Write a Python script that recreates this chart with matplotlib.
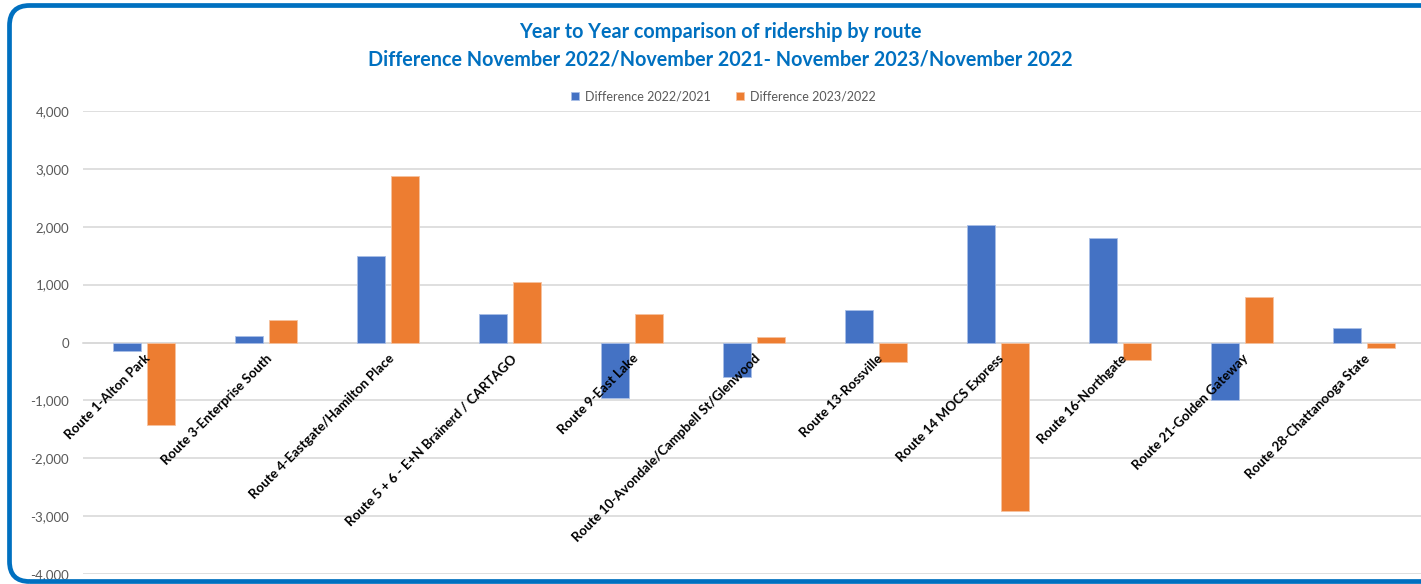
import matplotlib
matplotlib.use("Agg")
import matplotlib.pyplot as plt
import matplotlib.ticker as mticker
from matplotlib.patches import FancyBboxPatch
from matplotlib.transforms import IdentityTransform
import numpy as np

# data
routes = [
    "Route 1-Alton Park",
    "Route 3-Enterprise South",
    "Route 4-Eastgate/Hamilton Place",
    "Route 5 + 6 - E+N Brainerd / CARTAGO",
    "Route 9-East Lake",
    "Route 10-Avondale/Campbell St/Glenwood",
    "Route 13-Rossville",
    "Route 14 MOCS Express",
    "Route 16-Northgate",
    "Route 21-Golden Gateway",
    "Route 28-Chattanooga State",
]
diff_22_21 = [-150, 110, 1500, 500, -965, -600, 563, 2035, 1805, -1000, 247]
diff_23_22 = [-1430, 395, 2870, 1045, 495, 103, -333, -2910, -310, 788, -92]
series_names = ["Difference 2022/2021", "Difference 2023/2022"]
colors = ["#4472C4", "#ED7D31"]

title = ("Year to Year comparison of ridership by route\n"
         "Difference November 2022/November 2021- November 2023/November 2022")

plt.rcParams["font.family"] = ["Lato", "DejaVu Sans"]

W, H = 1421, 584
fig = plt.figure(figsize=(W / 100, H / 100), dpi=100)

# plot area in pixels: x 83..1425, y 111..574
left, right, top, bottom = 83, 1425, 111, 574
ax = fig.add_axes([left / W, (H - bottom) / H, (right - left) / W, (bottom - top) / H])

x = np.arange(len(routes))
w = 0.23
off = 0.143
ax.bar(x - off, diff_22_21, w, color=colors[0], edgecolor="#A9BEE6", linewidth=0.6,
       label=series_names[0], zorder=3)
ax.bar(x + off, diff_23_22, w, color=colors[1], edgecolor="#F6C2A0", linewidth=0.6,
       label=series_names[1], zorder=3)

ax.set_xlim(-0.5, len(routes) - 0.5)
ax.set_ylim(-4000, 4000)
ax.set_yticks(np.arange(-4000, 4001, 1000))
ax.yaxis.set_major_formatter(mticker.FuncFormatter(lambda v, p: f"{int(v):,}"))
ax.grid(axis="y", color="#D9D9D9", linewidth=1.2)
ax.yaxis.set_zorder(0.5)
ax.xaxis.set_zorder(5)  # category labels sit on top of the bars
for s in ["top", "right", "left"]:
    ax.spines[s].set_visible(False)
ax.spines["bottom"].set_position(("data", 0))
ax.spines["bottom"].set_color("#D9D9D9")
ax.spines["bottom"].set_linewidth(1.2)
ax.spines["bottom"].set_zorder(2)
ax.tick_params(axis="y", length=0, pad=10, labelsize=9.5, labelcolor="#595959")
ax.tick_params(axis="x", length=0, pad=7)
ax.set_xticks(x)
ax.set_xticklabels(routes, rotation=45, ha="right", va="top", rotation_mode="anchor",
                   fontsize=9.5, fontweight="bold", color="black")

fig.text(0.507, 0.962, title, ha="center", va="top", fontsize=14.2, fontweight="bold",
         color="#0070C0", linespacing=1.45)

fig.legend(loc="center", bbox_to_anchor=(0.509, 0.835), ncol=2, frameon=False,
           fontsize=9, handlelength=0.65, handleheight=0.65, handletextpad=0.45,
           columnspacing=2.0, labelcolor="#595959")

# rounded blue frame around the chart (runs off the right edge)
frame = FancyBboxPatch((9.5, 2.5), 1460, 576, boxstyle="round,pad=0,rounding_size=20",
                       transform=IdentityTransform(), facecolor="none",
                       edgecolor="#0070C0", linewidth=3.4, zorder=10)
fig.patches.append(frame)

fig.savefig("out.png", dpi=100)
